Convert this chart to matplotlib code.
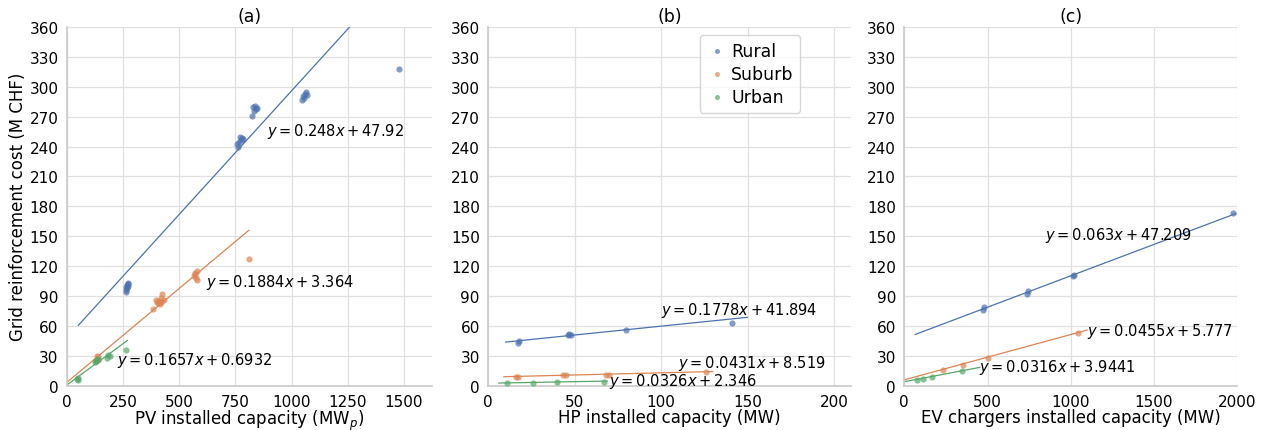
import numpy as np
import matplotlib.pyplot as plt
import seaborn as sns

sns.set_theme(style="whitegrid")
plt.rcParams['font.family'] = ['DejaVu Sans']

groups = ["Rural", "Suburb", "Urban"]
colors = ["#4C72B0", "#DD8452", "#55A868"]

# ---- (a) PV ----
pv_rural_x = [262, 265, 268, 270, 272, 266, 274, 263,
              757, 760, 765, 770, 775, 780, 785,
              825, 830, 835, 838, 842, 845,
              1045, 1050, 1055, 1060, 1065, 1070,
              1480]
pv_rural_y = [96, 94, 98, 100, 102, 101, 103, 99,
              243, 240, 245, 250, 247, 249, 248,
              271, 280, 276, 281, 278, 279,
              287, 291, 289, 293, 295, 292,
              318]
pv_suburb_x = [128, 132, 136, 140, 138,
               385, 395, 400, 405, 410, 415, 420, 425, 430, 420,
               565, 570, 575, 580, 572, 578,
               810]
pv_suburb_y = [25, 27, 30, 29, 26,
               77, 86, 84, 83, 85, 82, 88, 92, 86, 84,
               110, 113, 108, 106, 112, 115,
               127]
pv_urban_x = [45, 50, 48, 125, 130, 135, 140, 180, 185, 190, 265]
pv_urban_y = [7, 6, 8, 24, 25, 26, 27, 28, 31, 30, 36]
pv_fit = [(0.248, 47.92), (0.1884, 3.364), (0.1657, 0.6932)]
pv_fit_range = [(50, 1480), (0, 810), (0, 270)]
pv_labels = ["$y = 0.248x + 47.92$", "$y = 0.1884x + 3.364$",
             "$y = 0.1657x + 0.6932$"]
pv_label_pos = [(890, 256), (621, 105), (222, 26)]

# ---- (b) HP ----
hp_rural_x = [17, 18, 46, 47, 48, 80, 141]
hp_rural_y = [43, 45, 51, 52, 51, 56, 63]
hp_suburb_x = [16, 17, 43, 45, 68, 70, 126]
hp_suburb_y = [9, 9, 10.5, 10.5, 11, 11, 13.5]
hp_urban_x = [11, 26, 40, 67]
hp_urban_y = [2.5, 3, 3.5, 4]
hp_fit = [(0.1778, 41.894), (0.0431, 8.519), (0.0326, 2.346)]
hp_fit_range = [(10, 150), (9, 130), (6, 69)]
hp_labels = ["$y = 0.1778x + 41.894$", "$y = 0.0431x + 8.519$",
             "$y = 0.0326x + 2.346$"]
hp_label_pos = [(100, 76), (110, 23), (70, 5)]

# ---- (c) EV ----
ev_rural_x = [475, 477, 740, 742, 1015, 1017, 1975]
ev_rural_y = [76, 79, 92, 95, 110, 111, 173]
ev_suburb_x = [230, 355, 505, 1045]
ev_suburb_y = [16, 21, 28, 53]
ev_urban_x = [75, 115, 165, 345]
ev_urban_y = [6, 7, 8.5, 14.5]
ev_fit = [(0.063, 47.209), (0.0455, 5.777), (0.0316, 3.9441)]
ev_fit_range = [(64, 1994), (0, 1100), (0, 455)]
ev_labels = ["$y = 0.063x + 47.209$", "$y = 0.0455x + 5.777$",
             "$y = 0.0316x + 3.9441$"]
ev_label_pos = [(846, 152), (1097, 55), (451, 19.5)]

panels = [
    ("(a)", "PV installed capacity (MW$_p$)", (0, 1625), [0, 250, 500, 750, 1000, 1250, 1500],
     [(pv_rural_x, pv_rural_y), (pv_suburb_x, pv_suburb_y), (pv_urban_x, pv_urban_y)],
     pv_fit, pv_fit_range, pv_labels, pv_label_pos),
    ("(b)", "HP installed capacity (MW)", (0, 210), [0, 50, 100, 150, 200],
     [(hp_rural_x, hp_rural_y), (hp_suburb_x, hp_suburb_y), (hp_urban_x, hp_urban_y)],
     hp_fit, hp_fit_range, hp_labels, hp_label_pos),
    ("(c)", "EV chargers installed capacity (MW)", (0, 2000), [0, 500, 1000, 1500, 2000],
     [(ev_rural_x, ev_rural_y), (ev_suburb_x, ev_suburb_y), (ev_urban_x, ev_urban_y)],
     ev_fit, ev_fit_range, ev_labels, ev_label_pos),
]

fig = plt.figure(figsize=(12.63, 4.31), dpi=100)
lefts = [0.053, 0.3865, 0.716]
widths = [0.289, 0.2875, 0.2635]
for i, (title, xlabel, xlim, xticks, pts, fits, ranges, labels, lpos) in enumerate(panels):
    ax = fig.add_axes([lefts[i], 0.103, widths[i], 0.832])
    for k in range(3):
        x, y = pts[k]
        ax.scatter(x, y, s=20, color=colors[k], alpha=0.7, linewidths=0,
                   label=groups[k], zorder=3)
        a, b = fits[k]
        xs = np.array(ranges[k], dtype=float)
        ax.plot(xs, a * xs + b, color=colors[k], lw=0.9, zorder=2)
        ax.text(lpos[k][0], lpos[k][1], labels[k], fontsize=10.5, va='center',
                ha='left', color='black', zorder=4)
    ax.set_xlim(*xlim)
    ax.set_ylim(0, 360)
    ax.set_xticks(xticks)
    ax.set_yticks(np.arange(0, 361, 30))
    ax.tick_params(labelsize=11, pad=0, labelcolor='black')
    ax.set_title(title, fontsize=12.5, pad=4, color='black')
    ax.set_xlabel(xlabel, fontsize=12, labelpad=-1, color='black')
    if i == 0:
        ax.set_ylabel("Grid reinforcement cost (M CHF)", fontsize=12, labelpad=2,
                      color='black')
    for s in ["top", "right"]:
        ax.spines[s].set_visible(False)
    for s in ["left", "bottom"]:
        ax.spines[s].set_color("#cccccc")
    ax.grid(color="#e0e0e0", lw=0.9)
    if i == 1:
        leg = ax.legend(loc="upper right", bbox_to_anchor=(0.884, 1.003), fontsize=12.5,
                        handletextpad=0.2, markerscale=0.8, borderpad=0.4,
                        labelspacing=0.3, handlelength=1.2)
        for t in leg.get_texts():
            t.set_color('black')

fig.savefig("out.png", dpi=100)
